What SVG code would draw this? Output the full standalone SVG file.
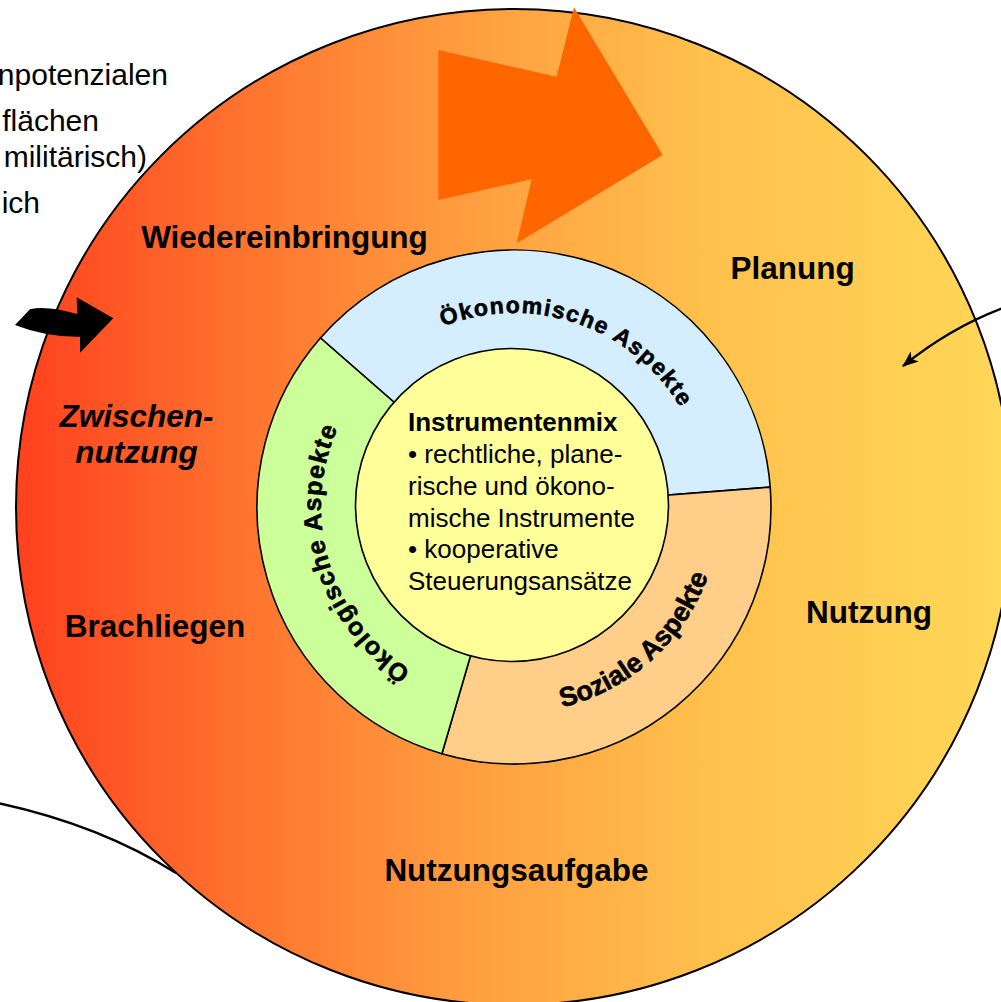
<svg xmlns="http://www.w3.org/2000/svg" width="1001" height="1002" viewBox="0 0 1001 1002">
<defs>
<style>
text{font-family:"Liberation Sans",Arial,sans-serif;fill:#000}
.lbl{font-size:31.5px;font-weight:bold;text-anchor:middle}
.it{font-style:italic}
.ring{font-weight:bold;stroke:#000;stroke-width:0.6}
.ctr{font-size:26px}
.side{font-size:30px;text-anchor:end}
.sec{stroke:#000;stroke-width:1.6}
.thin{fill:none;stroke:#000;stroke-width:2.5}
</style>
<linearGradient id="gOuter" gradientUnits="userSpaceOnUse" x1="16" y1="0" x2="1012" y2="0">
<stop offset="0" stop-color="#FF401E"/>
<stop offset="0.25" stop-color="#FF7830"/>
<stop offset="0.43" stop-color="#FF9A3E"/>
<stop offset="0.69" stop-color="#FFC04C"/>
<stop offset="1" stop-color="#FFD858"/>
</linearGradient>
<marker id="ah" viewBox="0 0 16 13" refX="15" refY="6.5" markerWidth="16" markerHeight="13" markerUnits="userSpaceOnUse" orient="auto">
<path d="M0,0 L16,6.5 L0,13 L4,6.5 Z" fill="#000"/>
</marker>
<path id="pOek" d="M386.7,360.6 A194,194 0 0 1 704.4,470"/>
<path id="pOeko" d="M469.6,694.8 A193,193 0 0 1 373.5,374.6"/>
<path id="pSoz" d="M450.3,702.9 A206,206 0 0 0 715.5,464.2"/>
</defs>

<g id="cycle">
<circle cx="514" cy="507" r="498" fill="url(#gOuter)" stroke="#000" stroke-width="2"/>
</g>

<g id="big-arrow">
<polygon points="438.3,50 556.7,76.7 574,7.3 662.7,155 516.7,243.3 531.7,179.3 438.3,200" fill="#FF6600"/>
</g>

<g id="labels">
<text class="lbl" x="284.5" y="248">Wiedereinbringung</text>
<text class="lbl" x="792.5" y="279">Planung</text>
<text class="lbl" x="869" y="623">Nutzung</text>
<text class="lbl" x="516.5" y="881">Nutzungsaufgabe</text>
<text class="lbl" x="155" y="637">Brachliegen</text>
<text class="lbl it" x="136.5" y="427">Zwischen-</text>
<text class="lbl it" x="136.5" y="463">nutzung</text>
</g>

<g id="aspects">
<g id="oekonomisch">
<path class="sec" d="M514,507 L320.4,338 A257,257 0 0 1 770.2,487.1 Z" fill="#D5EEFF"/>
</g>
<g id="sozial">
<path class="sec" d="M514,507 L770.2,487.1 A257,257 0 0 1 441.9,753.7 Z" fill="#FFCE88"/>
</g>
<g id="oekologisch">
<path class="sec" d="M514,507 L441.9,753.7 A257,257 0 0 1 320.4,338 Z" fill="#CCFF99"/>
</g>
<text class="ring" font-size="23" letter-spacing="1.4"><textPath href="#pOek" startOffset="50%" text-anchor="middle">Ökonomische Aspekte</textPath></text>
<text class="ring" font-size="25" letter-spacing="1.2"><textPath href="#pOeko" startOffset="50%" text-anchor="middle">Ökologische Aspekte</textPath></text>
<text class="ring" font-size="27" letter-spacing="0"><textPath href="#pSoz" startOffset="50%" text-anchor="middle">Soziale Aspekte</textPath></text>
</g>

<g id="center">
<circle cx="512" cy="505" r="156.5" fill="#FFFF99" stroke="#000" stroke-width="1.6"/>
<text class="ctr" x="408" y="431" font-weight="bold">Instrumentenmix</text>
<text class="ctr" x="408" y="463">• rechtliche, plane-</text>
<text class="ctr" x="408" y="495">rische und ökono-</text>
<text class="ctr" x="408" y="527">mische Instrumente</text>
<text class="ctr" x="408" y="558">• kooperative</text>
<text class="ctr" x="408" y="590">Steuerungsansätze</text>
</g>

<g id="side-text">
<text class="side" x="168" y="85">npotenzialen</text>
<text class="side" x="99" y="131">flächen</text>
<text class="side" x="147" y="167">militärisch)</text>
<text class="side" x="40" y="213">ich</text>
</g>

<g id="connectors">
<path d="M30,309.3 Q46.4,305 77.3,314 L76.7,297.3 L113.3,318.3 L80,352.7 L80,336.7 Q45.9,337.2 15,325 Z" fill="#000"/>
<path class="thin" d="M1003,308 Q950,328 903,366" marker-end="url(#ah)"/>
<path class="thin" stroke-width="2.2" d="M-2,803 Q100,825 176,873"/>
</g>
</svg>
